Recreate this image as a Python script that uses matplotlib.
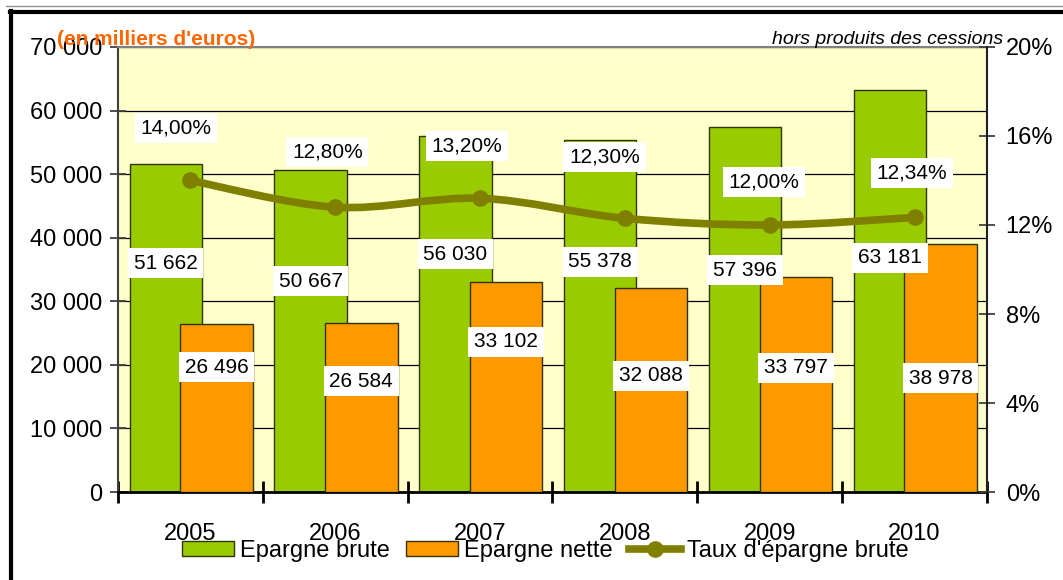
import numpy as np
import matplotlib
matplotlib.use('Agg')
import matplotlib.pyplot as plt
from matplotlib.path import Path
from matplotlib.patches import PathPatch, Patch
from matplotlib.lines import Line2D

plt.rcParams['font.family'] = ['Liberation Sans', 'DejaVu Sans']

annees = ['2005', '2006', '2007', '2008', '2009', '2010']
epargne_brute = [51662, 50667, 56030, 55378, 57396, 63181]
epargne_nette = [26496, 26584, 33102, 32088, 33797, 38978]
taux = [14.00, 12.80, 13.20, 12.30, 12.00, 12.34]

# where the data labels sit
y_lab_brute = [36020, 33190, 37430, 36180, 34920, 36810]
y_lab_nette = [19660, 17460, 23600, 18250, 19510, 17930]
y_lab_taux = [16.36, 15.28, 15.55, 15.06, 13.93, 14.34]
dx_lab_taux = [-0.10, -0.055, -0.09, -0.14, -0.04, -0.02]

VERT = '#99CC00'
ORANGE = '#FF9900'
OLIVE = '#808000'


def milliers(v):
    return f"{v:,}".replace(",", " ")


fig = plt.figure(figsize=(10.63, 5.80), dpi=100)
ax = fig.add_axes([0.111, 0.1517, 0.8175, 0.7673])
ax.set_facecolor('#FFFFCC')
ax2 = ax.twinx()

x = np.arange(len(annees))
w = 0.5
ax.bar(x - 0.17, epargne_brute, w, color=VERT, edgecolor='#333300', linewidth=1, zorder=2)
ax.bar(x + 0.18, epargne_nette, w, color=ORANGE, edgecolor='#333300', linewidth=1, zorder=3)

lab = dict(fontsize=15, ha='center', va='center', zorder=10,
           bbox=dict(boxstyle='square', facecolor='white', edgecolor='none', pad=0.28))
for i in range(len(annees)):
    ax.text(x[i] - 0.17, y_lab_brute[i], milliers(epargne_brute[i]), **lab)
    ax.text(x[i] + 0.18, y_lab_nette[i], milliers(epargne_nette[i]), **lab)

ax.set_xlim(-0.5, len(annees) - 0.5)
ax.set_ylim(0, 70000)
yt = np.arange(0, 70001, 10000)
ax.set_yticks(yt)
ax.set_yticklabels([milliers(v) for v in yt])
ax.set_xticks(x)
ax.set_xticklabels(annees)
ax.set_xticks(np.arange(-0.5, len(annees), 1), minor=True)
ax.tick_params(axis='x', which='major', length=0, labelsize=17, pad=22)
ax.tick_params(axis='x', which='minor', direction='inout', length=16, width=2, color='black')
ax.tick_params(axis='y', direction='inout', length=11, width=1.3, color='#404040',
               labelsize=17, pad=6)
ax.yaxis.grid(True, color='black', linewidth=0.9)
ax.set_axisbelow(True)
ax.spines['bottom'].set_linewidth(2)
ax.spines['left'].set_color('#404040')
ax.spines['left'].set_linewidth(1.5)
ax.spines['top'].set_color('#808080')
ax.spines['top'].set_linewidth(1.5)
ax.spines['right'].set_visible(False)

# smooth line for the rate (bezier through the points)
pts = np.column_stack([x, taux]).astype(float)
ext = np.vstack([pts[0], pts, pts[-1]])
verts = [tuple(pts[0])]
codes = [Path.MOVETO]
for i in range(len(pts) - 1):
    p0, p1, p2, p3 = ext[i], ext[i + 1], ext[i + 2], ext[i + 3]
    c1 = p1 + (p2 - p0) / 6
    c2 = p2 - (p3 - p1) / 6
    verts += [tuple(c1), tuple(c2), tuple(p2)]
    codes += [Path.CURVE4] * 3
ax2.add_patch(PathPatch(Path(verts, codes), facecolor='none', edgecolor=OLIVE,
                        linewidth=5.5, capstyle='round', zorder=5))
ax2.plot(x, taux, 'o', color=OLIVE, markersize=11, zorder=6)

for i in range(len(annees)):
    ax2.text(x[i] + dx_lab_taux[i], y_lab_taux[i], f"{taux[i]:.2f}%".replace('.', ','), **lab)

ax2.set_ylim(0, 20)
ax2.set_yticks(np.arange(0, 21, 4))
ax2.set_yticklabels([f"{v}%" for v in range(0, 21, 4)])
ax2.tick_params(axis='y', direction='inout', length=11, width=1.3, color='#404040',
                labelsize=17, pad=8)
for s in ['top', 'bottom', 'left']:
    ax2.spines[s].set_visible(False)
ax2.spines['right'].set_color('#202020')
ax2.spines['right'].set_linewidth(1.5)

fig.text(0.054, 0.932, "(en milliers d'euros)", color='#FF6600', fontsize=15,
         fontweight='bold', ha='left', va='center')
fig.text(0.944, 0.932, "hors produits des cessions", fontsize=14, style='italic',
         ha='right', va='center')

handles = [Patch(facecolor=VERT, edgecolor='#333300'),
           Patch(facecolor=ORANGE, edgecolor='#333300'),
           Line2D([], [], color=OLIVE, linewidth=5.5, marker='o', markersize=11)]
fig.legend(handles, ['Epargne brute', 'Epargne nette', "Taux d'épargne brute"],
           loc='center', bbox_to_anchor=(0.513, 0.05), ncol=3, frameon=False,
           fontsize=17, handlelength=2.2, handleheight=0.6, handletextpad=0.25,
           columnspacing=0.7, borderaxespad=0)

# outer frame
fig.add_artist(Line2D([0.006, 1], [0.99, 0.99], color='#909090', linewidth=1))
fig.add_artist(Line2D([0.0095, 1], [0.9785, 0.9785], color='black', linewidth=3))
fig.add_artist(Line2D([0.0105, 0.0105], [0, 0.981], color='black', linewidth=3))

fig.savefig('out.png', dpi=100)
